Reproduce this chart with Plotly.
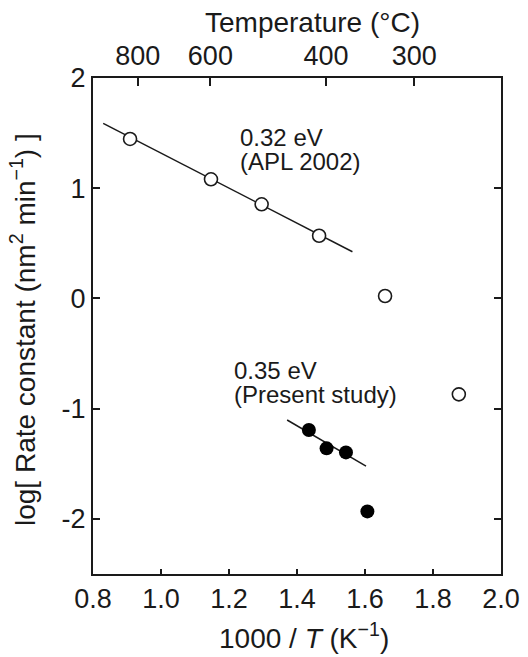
import plotly.graph_objects as go

# APL 2002 data (open circles)
apl_x = [0.909, 1.147, 1.296, 1.465]
apl_y = [1.447, 1.081, 0.854, 0.569]
apl_fit_x = [0.830, 1.563]
apl_fit_y = [1.589, 0.424]

# extra open circles
extra_x = [1.659, 1.876]
extra_y = [0.022, -0.870]

# Present study (filled circles)
pres_x = [1.435, 1.487, 1.544, 1.607]
pres_y = [-1.194, -1.360, -1.397, -1.932]
pres_fit_x = [1.371, 1.603]
pres_fit_y = [-1.103, -1.521]

# axes
x_ticks = [0.8, 1.0, 1.2, 1.4, 1.6, 1.8, 2.0]
x_ticklabels = ["0.8", "1.0", "1.2", "1.4", "1.6", "1.8", "2.0"]
y_ticks = [-2, -1, 0, 1, 2]
y_ticklabels = ["-2", "-1", "0", "1", "2"]
temps_c = [800, 600, 400, 300]
temp_labels = ["800", "600", "400", "300"]

top_vals = [1000.0 / (t + 273.15) for t in temps_c]

FONT = "Liberation Sans, Arial, sans-serif"
INK = "#1a1a1a"
TICK_FS = 27
TITLE_FS = 28
ANN_FS = 24

fig = go.Figure()
fig.add_trace(go.Scatter(x=apl_fit_x, y=apl_fit_y, mode="lines",
                         line=dict(color=INK, width=1.5), showlegend=False))
fig.add_trace(go.Scatter(x=pres_fit_x, y=pres_fit_y, mode="lines",
                         line=dict(color=INK, width=1.5), showlegend=False))
fig.add_trace(go.Scatter(x=apl_x + extra_x, y=apl_y + extra_y, mode="markers",
                         marker=dict(symbol="circle", size=13, color="white",
                                     line=dict(color=INK, width=1.6)),
                         showlegend=False))
fig.add_trace(go.Scatter(x=pres_x, y=pres_y, mode="markers",
                         marker=dict(symbol="circle", size=14, color="black",
                                     line=dict(color="black", width=0)),
                         showlegend=False))
# invisible trace for top axis
fig.add_trace(go.Scatter(x=[0.8, 2.0], y=[0, 0], xaxis="x2", mode="markers",
                         marker=dict(opacity=0), hoverinfo="skip", showlegend=False))

def ann(x, y, text):
    fig.add_annotation(x=x, y=y, xref="x", yref="y", xanchor="left", yanchor="middle",
                       showarrow=False, text=text,
                       font=dict(family=FONT, size=ANN_FS, color=INK))

ann(1.226, 1.456, "0.32 eV")
ann(1.226, 1.240, "(APL 2002)")
ann(1.209, -0.650, "0.35 eV")
ann(1.209, -0.868, "(Present study)")

# axis titles as paper annotations (plot area: x 93..501, y 78..574 px)
fig.add_annotation(x=(304 - 93) / 408, y=-(636 - 574) / 496, xref="paper", yref="paper",
                   xanchor="center", yanchor="middle", showarrow=False,
                   text="1000 / <i>T</i> (K<sup>−1</sup>)",
                   font=dict(family=FONT, size=TITLE_FS, color=INK))
fig.add_annotation(x=(312 - 93) / 408, y=1 + (78 - 22) / 496, xref="paper", yref="paper",
                   xanchor="center", yanchor="middle", showarrow=False,
                   text="Temperature (°C)",
                   font=dict(family=FONT, size=TITLE_FS, color=INK))
fig.add_annotation(x=-(93 - 23) / 408, y=(574 - 330) / 496, xref="paper", yref="paper",
                   xanchor="center", yanchor="middle", showarrow=False, textangle=-90,
                   text="log[ Rate constant (nm<sup>2</sup> min<sup>−1</sup>) ]",
                   font=dict(family=FONT, size=TITLE_FS, color=INK))

fig.update_layout(
    width=528, height=657,
    margin=dict(l=93, r=27, t=78, b=83),
    paper_bgcolor="white", plot_bgcolor="white",
    font=dict(family=FONT, size=TICK_FS, color=INK),
    xaxis=dict(range=[0.8, 2.0], tickvals=x_ticks, ticktext=x_ticklabels,
               ticks="inside", ticklen=5, tickwidth=1.5, tickcolor=INK,
               showline=True, linecolor=INK, linewidth=2, mirror=False,
               showgrid=False, zeroline=False, automargin=False,
               tickfont=dict(size=TICK_FS)),
    xaxis2=dict(range=[0.8, 2.0], overlaying="x", side="top",
                tickvals=top_vals, ticktext=temp_labels,
                ticks="inside", ticklen=8, tickwidth=1.5, tickcolor=INK,
                showline=True, linecolor=INK, linewidth=2,
                showgrid=False, zeroline=False, automargin=False,
                tickfont=dict(size=TICK_FS)),
    yaxis=dict(range=[-2.5, 2.0], tickvals=y_ticks, ticktext=y_ticklabels,
               ticks="inside", ticklen=7, tickwidth=1.5, tickcolor=INK,
               showline=True, linecolor=INK, linewidth=2, mirror="ticks",
               showgrid=False, zeroline=False, automargin=False,
               tickfont=dict(size=TICK_FS)),
)

fig.write_html(
    "out.html",
    config={"displayModeBar": False},
    post_script="document.body.style.margin='0';document.body.style.overflow='hidden';",
)
